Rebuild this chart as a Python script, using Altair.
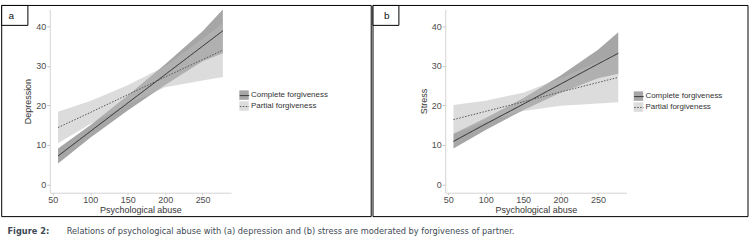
import altair as alt
import pandas as pd

# ---- data ----
x_pts = [57, 100, 150, 200, 250, 277]
groups = ["Complete forgiveness", "Partial forgiveness"]

dep_complete_fit = [7.2, 13.4, 20.6, 27.8, 35.0, 38.9]
dep_complete_lo = [5.3, 11.8, 18.7, 25.2, 31.2, 33.2]
dep_complete_hi = [9.1, 15.0, 22.5, 30.4, 38.8, 44.3]
dep_partial_fit = [14.4, 18.2, 22.7, 27.2, 31.6, 34.0]
dep_partial_lo = [10.4, 15.3, 20.3, 24.6, 26.3, 27.2]
dep_partial_hi = [18.4, 21.1, 25.1, 29.9, 36.9, 40.8]

str_complete_fit = [10.9, 15.3, 20.3, 25.4, 30.5, 33.2]
str_complete_lo = [9.1, 13.8, 18.8, 23.2, 26.9, 28.0]
str_complete_hi = [12.8, 16.8, 21.8, 27.6, 34.1, 38.5]
str_partial_fit = [16.4, 18.5, 20.9, 23.4, 25.8, 27.1]
str_partial_lo = [12.7, 15.8, 18.6, 19.9, 20.5, 20.8]
str_partial_hi = [20.1, 21.2, 23.2, 26.9, 31.1, 33.4]

x_ticks = [50, 100, 150, 200, 250]
y_ticks = [0, 10, 20, 30, 40]
caption_head = "Figure 2:"
caption_body = "Relations of psychological abuse with (a) depression and (b) stress are moderated by forgiveness of partner."

FONT = "Liberation Sans"
NARROW = "DejaVu Sans Condensed, Liberation Sans, sans-serif"
W, H = 182, 184
XDOM = [46, 288]
YDOM = [-2.1, 44.3]


def panel_df(cf, clo, chi, pf, plo, phi):
    rows = []
    for g, f, lo, hi in [(groups[0], cf, clo, chi), (groups[1], pf, plo, phi)]:
        for xv, a, b, c in zip(x_pts, f, lo, hi):
            rows.append({"x": xv, "fit": a, "lo": b, "hi": c, "g": g, "g2": g})
    return pd.DataFrame(rows)


one = pd.DataFrame({"k": [0]})


def line_legend(lx, ly):
    return alt.Legend(title=None, orient="none", legendX=lx, legendY=ly, zindex=2,
                      symbolType="stroke", symbolSize=90, symbolStrokeWidth=1,
                      labelFontSize=8, labelOpacity=0, labelColor="#333",
                      labelFont=FONT, labelOffset=2, rowPadding=1)


def panel(df, ytitle, letter, fl, fr, boxr, letter_x, lx, ly):
    base = alt.Chart(df)
    xenc = alt.X("x:Q", scale=alt.Scale(domain=XDOM, nice=False, zero=False),
                 axis=alt.Axis(title="Psychological abuse", values=x_ticks, tickSize=2, labelPadding=1,
                               titlePadding=1))
    yenc = alt.Y("lo:Q", scale=alt.Scale(domain=YDOM, nice=False, zero=False),
                 axis=alt.Axis(title=ytitle, values=y_ticks, tickSize=3, labelPadding=1, titlePadding=3))
    frame = alt.Chart(one).mark_rect(fill="transparent", stroke="black", strokeWidth=1).encode(
        x=alt.value(fl), x2=alt.value(fr), y=alt.value(-4), y2=alt.value(208))
    box = alt.Chart(one).mark_rect(fill="white", stroke="black", strokeWidth=1).encode(
        x=alt.value(fl), x2=alt.value(boxr), y=alt.value(-4), y2=alt.value(16))
    lab = alt.Chart(one).mark_text(text=letter, font=FONT, fontSize=10, color="#111", align="left",
                                   baseline="middle").encode(x=alt.value(letter_x), y=alt.value(6.5))
    area = base.mark_area(opacity=1).encode(
        x=xenc, y=yenc, y2="hi:Q",
        fill=alt.Fill("g:N", scale=alt.Scale(range=["#a6a6a6", "rgba(185,185,185,0.5)"]),
                      legend=alt.Legend(title=None, orient="none", legendX=lx, legendY=ly, zindex=0,
                                        symbolType="square", symbolSize=90, symbolStrokeWidth=0,
                                        symbolOpacity=1, labelFontSize=8, labelColor="#333",
                                        labelFont=FONT, labelOffset=2, rowPadding=1)))
    line = base.mark_line(strokeWidth=1).encode(
        x="x:Q", y="fit:Q",
        stroke=alt.Stroke("g2:N", scale=alt.Scale(range=["#262626", "#555555"]),
                          legend=line_legend(lx, ly)),
        strokeDash=alt.StrokeDash("g2:N", scale=alt.Scale(range=[[1, 0], [1.5, 1.5]]),
                                  legend=line_legend(lx, ly)))
    return alt.layer(frame, area, line, box, lab).properties(width=W, height=H)


left = panel(panel_df(dep_complete_fit, dep_complete_lo, dep_complete_hi,
                      dep_partial_fit, dep_partial_lo, dep_partial_hi),
             "Depression", "a", -48.3, 322.7, -22, -41.5, 190, 81)
right = panel(panel_df(str_complete_fit, str_complete_lo, str_complete_hi,
                       str_partial_fit, str_partial_lo, str_partial_hi),
              "Stress", "b", -72.5, 304, -46.5, -61.5, 189, 82)

cap_head = alt.Chart(one).mark_text(text=caption_head, font=NARROW, fontSize=9.2, fontWeight="bold",
                                    color="#3e4a57", align="left", baseline="middle").encode(
    x=alt.value(-42.5), y=alt.value(13))
cap_body = alt.Chart(one).mark_text(text=caption_body, font=NARROW, fontSize=9.2,
                                    color="#404a55", align="left", baseline="middle").encode(
    x=alt.value(17), y=alt.value(13))
caption = alt.layer(cap_head, cap_body).properties(width=10, height=20)

top = alt.hconcat(left, right, spacing=0).resolve_scale(
    fill="independent", stroke="independent", strokeDash="independent"
).resolve_legend(fill="independent", stroke="independent", strokeDash="independent")

chart = alt.vconcat(top, caption, spacing=0).properties(
    padding={"left": 1, "top": 4, "right": 1, "bottom": 0}
).configure_view(stroke=None).configure_axis(
    grid=False, domainColor="#d4d4d4", tickColor="#c4c4c4", labelFontSize=9, labelColor="#4d4d4d",
    titleFontSize=9, titleColor="#333", titleFontWeight="normal", labelFont=FONT, titleFont=FONT
)

chart.save("out.html", embed_options={"renderer": "svg", "actions": False})
